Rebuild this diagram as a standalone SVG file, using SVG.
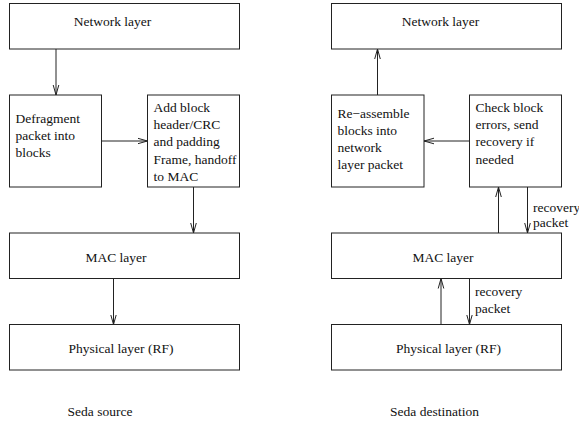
<svg xmlns="http://www.w3.org/2000/svg" width="579" height="423" viewBox="0 0 579 423">
<defs>
<style>
.box{fill:#fff;stroke:#222;stroke-width:1}
.ln{fill:none;stroke:#222;stroke-width:1;marker-end:url(#ah)}
text{font-family:"Liberation Serif","Times New Roman",serif;font-size:13.5px;fill:#111}
.c{text-anchor:middle}
</style>
<marker id="ah" viewBox="0 0 10 10" refX="10" refY="5" markerWidth="10" markerHeight="10" markerUnits="userSpaceOnUse" orient="auto">
<path d="M0,2.2 L10,5 L0,7.8" fill="none" stroke="#222" stroke-width="1"/>
</marker>
</defs>
<rect width="579" height="423" fill="#fff"/>
<g id="connectors">
<line class="ln" x1="56" y1="49" x2="56" y2="95"/>
<line class="ln" x1="101.5" y1="141" x2="147.5" y2="141"/>
<line class="ln" x1="193.5" y1="187" x2="193.5" y2="233"/>
<line class="ln" x1="113.5" y1="278.5" x2="113.5" y2="324.5"/>
<line class="ln" x1="377.5" y1="95" x2="377.5" y2="49"/>
<line class="ln" x1="469.5" y1="141" x2="424" y2="141"/>
<line class="ln" x1="498.5" y1="233" x2="498.5" y2="187"/>
<line class="ln" x1="527.5" y1="187" x2="527.5" y2="233"/>
<line class="ln" x1="441" y1="324.5" x2="441" y2="278.5"/>
<line class="ln" x1="469.5" y1="278.5" x2="469.5" y2="324.5"/>
</g>
<g id="src-network"><rect class="box" x="9.5" y="3.5" width="230" height="45.5"/><text class="c" x="112.5" y="26">Network layer</text></g>
<g id="src-defrag"><rect class="box" x="9.5" y="95" width="92" height="92"/>
<text x="15.5" y="123">Defragment</text><text x="15.5" y="140">packet into</text><text x="15.5" y="157">blocks</text></g>
<g id="src-addblock"><rect class="box" x="147.5" y="95" width="92" height="92"/>
<text x="153.5" y="112">Add block</text><text x="153.5" y="129.2">header/CRC</text><text x="153.5" y="146.4">and padding</text><text x="153.5" y="163.6">Frame, handoff</text><text x="153.5" y="180.8">to MAC</text></g>
<g id="src-mac"><rect class="box" x="9.5" y="233" width="230" height="45.5"/><text class="c" x="116" y="261.5">MAC layer</text></g>
<g id="src-phy"><rect class="box" x="9.5" y="324.5" width="230" height="45.5"/><text class="c" x="121" y="353">Physical layer (RF)</text></g>
<g id="src-label"><text class="c" x="100" y="416">Seda source</text></g>
<g id="dst-network"><rect class="box" x="331.5" y="3.5" width="230" height="45.5"/><text class="c" x="440.5" y="26">Network layer</text></g>
<g id="dst-reassemble"><rect class="box" x="331.5" y="95" width="92.5" height="92"/>
<text x="337.5" y="117.5">Re−assemble</text><text x="337.5" y="134.5">blocks into</text><text x="337.5" y="151.5">network</text><text x="337.5" y="168.5">layer packet</text></g>
<g id="dst-check"><rect class="box" x="469.5" y="95" width="92" height="92"/>
<text x="475.5" y="112">Check block</text><text x="475.5" y="129.2">errors, send</text><text x="475.5" y="146.4">recovery if</text><text x="475.5" y="163.6">needed</text></g>
<g id="dst-mac"><rect class="box" x="331.5" y="233" width="230" height="45.5"/><text class="c" x="443" y="261.5">MAC layer</text></g>
<g id="dst-phy"><rect class="box" x="331.5" y="324.5" width="230" height="45.5"/><text class="c" x="448.5" y="353">Physical layer (RF)</text></g>
<g id="dst-labels">
<text x="533" y="212">recovery</text><text x="533" y="226.5">packet</text>
<text x="475" y="296">recovery</text><text x="475" y="312.5">packet</text>
<text class="c" x="434.5" y="416">Seda destination</text>
</g>
</svg>
